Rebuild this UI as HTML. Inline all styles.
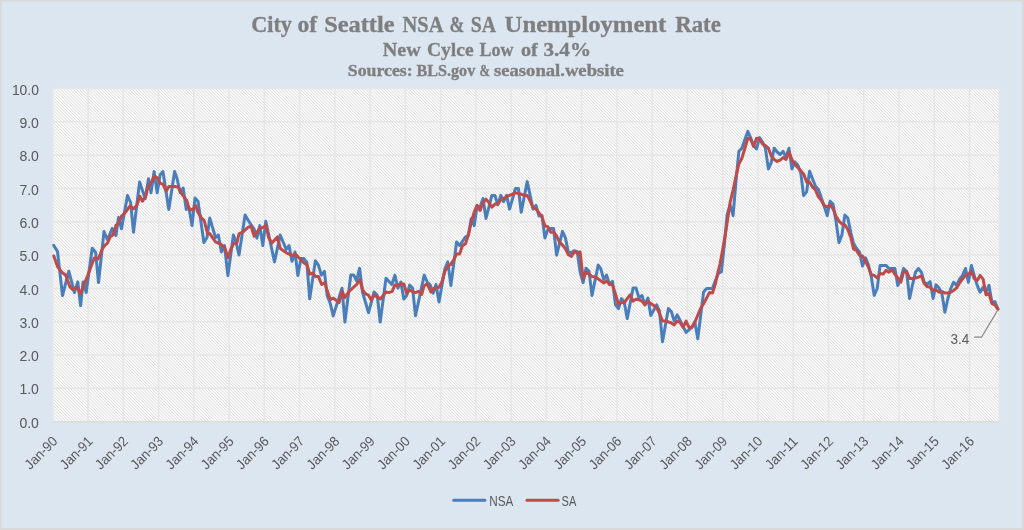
<!DOCTYPE html>
<html lang="en"><head><meta charset="utf-8"><title>City of Seattle NSA &amp; SA Unemployment Rate</title>
<style>html,body{margin:0;padding:0;background:#dce6f1;}body{width:1024px;height:530px;overflow:hidden;}svg{display:block;}.ax{font-family:"Liberation Sans",Arial,sans-serif;font-size:14px;fill:#595959;}.ti{font-family:"Liberation Serif","Times New Roman",serif;font-weight:bold;fill:#7f7f7f;stroke:#7f7f7f;stroke-width:0.35px;text-anchor:middle;}</style></head><body>
<svg width="1024" height="530" viewBox="0 0 1024 530">
<defs><pattern id="hatch" width="2.2" height="2.2" patternUnits="userSpaceOnUse" patternTransform="rotate(45)"><rect width="2.2" height="2.2" fill="#ffffff"/><rect x="0" y="0" width="2.2" height="0.95" fill="#dfdfdf"/></pattern><filter id="soft" x="-2%" y="-2%" width="104%" height="104%"><feGaussianBlur stdDeviation="0.4"/></filter><clipPath id="pc"><rect x="52.30" y="84.50" width="949.10" height="341.80"/></clipPath></defs>
<rect x="0" y="0" width="1024" height="530" fill="#d9d9d9"/>
<rect x="1.5" y="1.5" width="1020.6" height="526.5" rx="1" fill="#dce6f1"/>
<g filter="url(#soft)">
<rect x="52.30" y="88.50" width="947.10" height="333.80" fill="url(#hatch)"/>
<path d="M52.30 388.35H999.40M52.30 355.04H999.40M52.30 321.72H999.40M52.30 288.41H999.40M52.30 255.09H999.40M52.30 221.77H999.40M52.30 188.46H999.40M52.30 155.14H999.40M52.30 121.83H999.40M52.30 88.51H999.40M52.80 88.50V422.30M88.06 88.50V422.30M123.32 88.50V422.30M158.57 88.50V422.30M193.83 88.50V422.30M229.09 88.50V422.30M264.35 88.50V422.30M299.61 88.50V422.30M334.86 88.50V422.30M370.12 88.50V422.30M405.38 88.50V422.30M440.64 88.50V422.30M475.90 88.50V422.30M511.15 88.50V422.30M546.41 88.50V422.30M581.67 88.50V422.30M616.93 88.50V422.30M652.19 88.50V422.30M687.44 88.50V422.30M722.70 88.50V422.30M757.96 88.50V422.30M793.22 88.50V422.30M828.48 88.50V422.30M863.73 88.50V422.30M898.99 88.50V422.30M934.25 88.50V422.30M969.51 88.50V422.30M999.40 88.50V422.30" stroke="#e6e6e6" stroke-width="1.5" fill="none"/>
<path d="M52.30 421.85H999.40" stroke="#d6d6d6" stroke-width="1.4" fill="none"/>
<text class="ti" style="text-anchor:start" x="251.3" y="31.9" font-size="24" textLength="40.5" lengthAdjust="spacingAndGlyphs">City</text>
<text class="ti" style="text-anchor:start" x="297.6" y="31.9" font-size="24" textLength="19.6" lengthAdjust="spacingAndGlyphs">of</text>
<text class="ti" style="text-anchor:start" x="324.2" y="31.9" font-size="24" textLength="70.4" lengthAdjust="spacingAndGlyphs">Seattle</text>
<text class="ti" style="text-anchor:start" x="402.5" y="31.9" font-size="24" textLength="40.9" lengthAdjust="spacingAndGlyphs">NSA</text>
<text class="ti" style="text-anchor:start" x="449.5" y="31.9" font-size="24" textLength="14.8" lengthAdjust="spacingAndGlyphs">&amp;</text>
<text class="ti" style="text-anchor:start" x="470.7" y="31.9" font-size="24" textLength="25.4" lengthAdjust="spacingAndGlyphs">SA</text>
<text class="ti" style="text-anchor:start" x="504.6" y="31.9" font-size="24" textLength="161.7" lengthAdjust="spacingAndGlyphs">Unemployment</text>
<text class="ti" style="text-anchor:start" x="675.2" y="31.9" font-size="24" textLength="45.7" lengthAdjust="spacingAndGlyphs">Rate</text>
<text class="ti" style="text-anchor:start" x="382.8" y="55.8" font-size="19" textLength="38.0" lengthAdjust="spacingAndGlyphs">New</text>
<text class="ti" style="text-anchor:start" x="426.9" y="55.8" font-size="19" textLength="46.7" lengthAdjust="spacingAndGlyphs">Cylce</text>
<text class="ti" style="text-anchor:start" x="479.6" y="55.8" font-size="19" textLength="33.9" lengthAdjust="spacingAndGlyphs">Low</text>
<text class="ti" style="text-anchor:start" x="521.0" y="55.8" font-size="19" textLength="16.8" lengthAdjust="spacingAndGlyphs">of</text>
<text class="ti" style="text-anchor:start" x="543.5" y="55.8" font-size="19" textLength="47.5" lengthAdjust="spacingAndGlyphs">3.4%</text>
<text class="ti" style="text-anchor:start" x="347.8" y="75.5" font-size="16" textLength="64.9" lengthAdjust="spacingAndGlyphs">Sources:</text>
<text class="ti" style="text-anchor:start" x="416.6" y="75.5" font-size="16" textLength="58.6" lengthAdjust="spacingAndGlyphs">BLS.gov</text>
<text class="ti" style="text-anchor:start" x="479.5" y="75.5" font-size="16" textLength="10.5" lengthAdjust="spacingAndGlyphs">&amp;</text>
<text class="ti" style="text-anchor:start" x="494.0" y="75.5" font-size="16" textLength="129.9" lengthAdjust="spacingAndGlyphs">seasonal.website</text>
<text class="ax" x="38.9" y="427.77" text-anchor="end" textLength="19.5" lengthAdjust="spacingAndGlyphs">0.0</text>
<text class="ax" x="38.9" y="394.45" text-anchor="end" textLength="19.5" lengthAdjust="spacingAndGlyphs">1.0</text>
<text class="ax" x="38.9" y="361.14" text-anchor="end" textLength="19.5" lengthAdjust="spacingAndGlyphs">2.0</text>
<text class="ax" x="38.9" y="327.82" text-anchor="end" textLength="19.5" lengthAdjust="spacingAndGlyphs">3.0</text>
<text class="ax" x="38.9" y="294.51" text-anchor="end" textLength="19.5" lengthAdjust="spacingAndGlyphs">4.0</text>
<text class="ax" x="38.9" y="261.19" text-anchor="end" textLength="19.5" lengthAdjust="spacingAndGlyphs">5.0</text>
<text class="ax" x="38.9" y="227.87" text-anchor="end" textLength="19.5" lengthAdjust="spacingAndGlyphs">6.0</text>
<text class="ax" x="38.9" y="194.56" text-anchor="end" textLength="19.5" lengthAdjust="spacingAndGlyphs">7.0</text>
<text class="ax" x="38.9" y="161.24" text-anchor="end" textLength="19.5" lengthAdjust="spacingAndGlyphs">8.0</text>
<text class="ax" x="38.9" y="127.93" text-anchor="end" textLength="19.5" lengthAdjust="spacingAndGlyphs">9.0</text>
<text class="ax" x="38.9" y="94.61" text-anchor="end" textLength="27.0" lengthAdjust="spacingAndGlyphs">10.0</text>
<text class="ax" transform="translate(58.30 442.20) rotate(-45)" text-anchor="end" textLength="39.6" lengthAdjust="spacingAndGlyphs">Jan-90</text>
<text class="ax" transform="translate(93.56 442.20) rotate(-45)" text-anchor="end" textLength="39.6" lengthAdjust="spacingAndGlyphs">Jan-91</text>
<text class="ax" transform="translate(128.82 442.20) rotate(-45)" text-anchor="end" textLength="39.6" lengthAdjust="spacingAndGlyphs">Jan-92</text>
<text class="ax" transform="translate(164.07 442.20) rotate(-45)" text-anchor="end" textLength="39.6" lengthAdjust="spacingAndGlyphs">Jan-93</text>
<text class="ax" transform="translate(199.33 442.20) rotate(-45)" text-anchor="end" textLength="39.6" lengthAdjust="spacingAndGlyphs">Jan-94</text>
<text class="ax" transform="translate(234.59 442.20) rotate(-45)" text-anchor="end" textLength="39.6" lengthAdjust="spacingAndGlyphs">Jan-95</text>
<text class="ax" transform="translate(269.85 442.20) rotate(-45)" text-anchor="end" textLength="39.6" lengthAdjust="spacingAndGlyphs">Jan-96</text>
<text class="ax" transform="translate(305.11 442.20) rotate(-45)" text-anchor="end" textLength="39.6" lengthAdjust="spacingAndGlyphs">Jan-97</text>
<text class="ax" transform="translate(340.36 442.20) rotate(-45)" text-anchor="end" textLength="39.6" lengthAdjust="spacingAndGlyphs">Jan-98</text>
<text class="ax" transform="translate(375.62 442.20) rotate(-45)" text-anchor="end" textLength="39.6" lengthAdjust="spacingAndGlyphs">Jan-99</text>
<text class="ax" transform="translate(410.88 442.20) rotate(-45)" text-anchor="end" textLength="39.6" lengthAdjust="spacingAndGlyphs">Jan-00</text>
<text class="ax" transform="translate(446.14 442.20) rotate(-45)" text-anchor="end" textLength="39.6" lengthAdjust="spacingAndGlyphs">Jan-01</text>
<text class="ax" transform="translate(481.40 442.20) rotate(-45)" text-anchor="end" textLength="39.6" lengthAdjust="spacingAndGlyphs">Jan-02</text>
<text class="ax" transform="translate(516.65 442.20) rotate(-45)" text-anchor="end" textLength="39.6" lengthAdjust="spacingAndGlyphs">Jan-03</text>
<text class="ax" transform="translate(551.91 442.20) rotate(-45)" text-anchor="end" textLength="39.6" lengthAdjust="spacingAndGlyphs">Jan-04</text>
<text class="ax" transform="translate(587.17 442.20) rotate(-45)" text-anchor="end" textLength="39.6" lengthAdjust="spacingAndGlyphs">Jan-05</text>
<text class="ax" transform="translate(622.43 442.20) rotate(-45)" text-anchor="end" textLength="39.6" lengthAdjust="spacingAndGlyphs">Jan-06</text>
<text class="ax" transform="translate(657.69 442.20) rotate(-45)" text-anchor="end" textLength="39.6" lengthAdjust="spacingAndGlyphs">Jan-07</text>
<text class="ax" transform="translate(692.94 442.20) rotate(-45)" text-anchor="end" textLength="39.6" lengthAdjust="spacingAndGlyphs">Jan-08</text>
<text class="ax" transform="translate(728.20 442.20) rotate(-45)" text-anchor="end" textLength="39.6" lengthAdjust="spacingAndGlyphs">Jan-09</text>
<text class="ax" transform="translate(763.46 442.20) rotate(-45)" text-anchor="end" textLength="39.6" lengthAdjust="spacingAndGlyphs">Jan-10</text>
<text class="ax" transform="translate(798.72 442.20) rotate(-45)" text-anchor="end" textLength="39.6" lengthAdjust="spacingAndGlyphs">Jan-11</text>
<text class="ax" transform="translate(833.98 442.20) rotate(-45)" text-anchor="end" textLength="39.6" lengthAdjust="spacingAndGlyphs">Jan-12</text>
<text class="ax" transform="translate(869.23 442.20) rotate(-45)" text-anchor="end" textLength="39.6" lengthAdjust="spacingAndGlyphs">Jan-13</text>
<text class="ax" transform="translate(904.49 442.20) rotate(-45)" text-anchor="end" textLength="39.6" lengthAdjust="spacingAndGlyphs">Jan-14</text>
<text class="ax" transform="translate(939.75 442.20) rotate(-45)" text-anchor="end" textLength="39.6" lengthAdjust="spacingAndGlyphs">Jan-15</text>
<text class="ax" transform="translate(975.01 442.20) rotate(-45)" text-anchor="end" textLength="39.6" lengthAdjust="spacingAndGlyphs">Jan-16</text>
<path d="M53.8 245.4L57.5 251.6L62.5 295.6L68.8 271.2L74.4 292.5L77.8 281.9L80.6 305.6L83.1 281.9L86.2 292.5L92.2 248.2L95.6 252.2L98.5 282.5L104.0 231.6L107.6 240.0L112.1 228.5L116.0 235.4L118.5 217.5L121.5 228.8L127.5 195.6L130.6 202.5L133.5 232.2L139.6 181.9L145.2 198.8L148.5 178.8L151.0 192.8L154.1 171.5L157.2 192.8L160.0 175.0L162.9 171.5L168.8 209.4L174.6 171.5L177.1 178.8L180.1 192.5L183.2 188.1L186.2 209.4L189.0 208.1L192.0 225.6L195.0 198.1L198.0 201.2L203.9 242.5L207.0 237.5L209.8 218.1L215.5 237.5L218.4 235.0L221.4 251.9L224.5 245.6L227.9 275.6L233.4 235.0L236.1 242.5L239.0 255.0L245.1 215.0L248.0 220.0L254.2 229.4L256.9 238.1L259.8 225.6L262.8 245.6L265.8 221.2L274.5 261.9L280.2 235.0L286.2 249.4L289.0 245.6L292.0 261.2L295.0 251.9L297.9 275.6L300.9 258.5L303.8 258.5L306.8 262.2L309.7 298.8L315.4 260.8L318.4 265.1L321.4 275.1L324.4 271.4L327.2 295.8L330.2 303.2L333.2 315.8L342.0 288.2L344.9 322.0L350.8 275.1L353.8 275.1L356.6 280.8L359.6 268.2L362.5 292.0L368.5 312.6L374.1 292.0L377.2 295.1L380.2 322.0L386.0 278.2L391.9 284.5L394.9 275.1L397.9 288.2L400.9 282.0L403.8 298.9L406.6 295.8L409.6 285.1L412.6 288.2L415.5 315.8L424.2 275.1L427.2 282.0L430.4 285.1L433.1 293.2L436.0 284.4L439.0 301.9L444.9 268.8L447.8 261.9L450.9 285.6L456.6 241.9L459.6 245.6L465.5 236.9L468.4 235.0L471.2 218.8L474.2 225.6L477.1 206.0L480.1 207.2L483.0 198.5L486.0 218.5L491.9 195.4L494.9 195.4L497.8 204.8L500.8 195.4L503.6 201.6L506.6 195.4L509.6 209.1L515.4 188.5L518.4 188.5L521.2 212.2L527.2 181.6L533.1 209.1L536.0 205.4L539.0 216.0L541.9 215.4L544.9 237.9L547.8 229.8L550.8 228.5L553.6 228.5L556.6 255.2L559.6 243.1L562.5 231.4L565.5 238.2L568.4 252.6L571.4 252.6L574.2 250.8L577.2 251.4L580.1 272.0L583.1 282.6L586.0 268.2L589.0 271.4L592.0 295.5L598.2 265.1L600.8 268.9L603.8 279.5L606.6 275.1L609.5 284.5L612.5 281.4L615.5 304.9L618.5 308.6L621.4 298.6L624.2 301.8L627.2 318.6L633.1 288.0L636.0 288.0L639.0 298.0L642.0 295.5L644.9 304.9L647.9 298.0L650.8 315.5L656.6 304.9L659.5 311.1L662.5 341.8L668.4 308.6L671.4 311.8L674.2 321.1L677.2 314.9L680.1 320.5L686.1 332.4L689.0 329.9L691.9 326.9L694.8 321.9L697.8 338.8L703.6 291.9L706.6 288.5L709.5 288.5L712.5 288.5L715.5 280.3L718.4 273.5L721.4 271.8L724.3 245.0L727.2 214.5L730.1 205.0L733.1 215.7L736.0 181.2L738.9 151.2L741.9 148.2L744.9 139.5L747.8 131.4L750.8 138.2L753.6 145.8L756.6 148.9L759.5 137.6L762.5 142.0L765.4 148.2L768.4 168.9L771.2 162.6L774.2 148.2L777.1 152.0L780.1 154.5L783.1 151.4L786.0 157.0L789.0 148.2L791.9 168.9L794.9 162.0L797.8 165.1L800.8 173.1L803.6 195.6L806.6 191.9L809.6 171.2L812.5 178.8L815.5 186.2L818.4 189.4L821.4 198.1L824.2 206.2L827.2 215.6L830.1 201.2L833.1 204.4L836.0 221.2L839.0 242.5L841.9 235.0L844.9 215.0L847.8 218.1L850.8 232.5L853.6 243.5L856.6 248.5L859.6 252.2L862.5 266.0L865.5 257.9L868.4 264.8L871.4 277.2L874.2 295.4L877.2 288.5L880.1 265.4L883.1 265.4L886.0 265.4L889.0 268.5L891.9 268.5L894.9 268.5L897.8 285.4L900.8 278.5L903.6 268.5L906.6 271.6L909.6 298.5L912.5 284.8L915.5 272.2L918.4 268.5L921.4 272.2L924.2 282.2L927.2 284.1L930.1 281.6L933.1 298.5L936.0 284.8L939.0 287.9L941.9 293.5L944.9 312.2L947.9 298.5L950.8 288.5L953.6 282.2L956.6 285.4L959.6 279.1L962.5 275.4L965.5 268.5L968.4 282.2L971.4 265.4L974.2 275.4L977.2 285.4L980.1 292.2L983.1 287.2L986.0 292.2L989.0 285.4L991.9 302.2L994.9 301.6L997.9 309.1" stroke="#4a7ebb" stroke-width="3" fill="none" stroke-linejoin="round" stroke-linecap="round"/>
<path d="M53.8 256.0L57.5 266.6L61.9 272.2L65.6 275.0L70.0 286.9L72.5 289.4L76.9 287.5L80.6 293.8L83.8 285.0L87.5 276.2L91.2 266.0L94.4 257.9L98.1 258.8L100.4 253.8L102.5 248.5L104.8 245.4L107.5 243.2L110.2 236.6L113.1 235.0L115.9 225.4L118.8 222.9L121.5 216.0L125.0 212.9L130.0 206.0L133.5 208.8L136.9 205.2L139.8 196.2L142.5 201.2L145.6 196.2L148.1 186.9L151.2 182.5L154.4 176.2L157.5 178.1L160.0 183.1L163.1 184.4L166.2 191.2L168.8 186.5L175.0 186.5L178.0 186.9L181.8 193.8L186.8 200.6L189.2 208.8L192.4 210.0L195.5 205.6L198.0 212.5L201.1 217.5L204.2 220.6L207.4 233.1L209.9 233.8L215.5 241.9L221.1 244.4L224.9 248.1L228.0 257.8L230.5 250.0L233.6 243.8L236.8 243.1L239.0 233.8L243.0 231.9L248.6 226.9L251.1 226.2L254.2 236.2L259.9 228.1L263.0 227.5L266.1 225.6L268.6 237.5L271.8 243.1L277.4 236.9L280.5 248.8L286.8 253.1L292.4 255.6L295.5 254.0L298.6 257.5L304.0 262.9L307.0 264.8L309.8 274.1L312.9 273.2L315.4 276.4L318.5 276.4L321.6 284.5L324.8 282.6L327.2 290.8L330.4 299.5L333.5 298.2L339.1 302.6L342.2 291.4L344.8 297.6L349.1 291.4L356.6 284.5L359.8 279.5L362.5 289.5L365.4 293.9L368.5 295.1L371.2 300.1L374.1 295.1L380.4 298.9L386.0 292.0L389.1 292.6L392.2 291.4L394.8 285.1L397.9 285.8L401.0 283.9L403.8 283.9L406.6 293.2L409.8 290.1L415.4 292.6L418.5 291.4L421.6 294.5L424.1 285.8L427.2 283.9L431.0 292.0L434.0 288.2L436.0 287.9L439.0 287.2L441.9 281.9L444.9 271.2L447.8 266.2L450.9 264.4L453.6 260.0L456.6 254.0L459.6 254.0L462.5 245.6L465.5 243.8L468.4 234.8L471.2 222.2L474.2 212.2L477.1 205.4L480.1 210.4L483.0 202.9L486.0 199.1L489.0 202.9L491.9 207.2L494.9 204.1L497.8 204.1L500.8 199.8L503.6 198.5L506.6 196.6L509.6 195.4L512.5 194.1L515.4 192.9L518.4 193.5L521.2 194.1L524.2 195.4L527.2 195.4L530.1 201.0L533.1 207.9L536.0 209.1L539.0 212.9L541.9 216.6L544.9 226.0L547.8 226.6L550.8 232.2L553.6 231.9L556.6 236.2L559.5 242.2L562.0 244.5L565.5 248.9L568.4 254.8L571.4 256.4L574.2 251.4L577.2 253.2L580.1 252.0L583.1 278.9L586.0 272.0L592.0 276.4L594.9 276.8L597.9 278.6L603.8 283.0L606.6 281.1L609.5 284.2L612.5 284.9L615.5 294.2L618.5 304.2L621.4 302.4L624.2 303.0L627.2 298.6L630.1 294.9L633.1 301.1L636.0 299.2L639.0 299.9L642.0 301.1L644.9 304.9L647.9 301.1L650.8 303.6L656.6 307.4L659.5 313.6L662.5 321.1L665.5 321.1L668.4 321.8L671.4 323.0L674.2 324.9L677.2 321.1L680.1 322.4L683.1 327.4L686.1 321.1L689.0 327.4L691.9 327.5L694.8 322.5L697.8 315.0L700.8 308.1L703.6 303.8L706.6 298.1L709.5 292.5L712.5 293.1L715.4 283.8L717.8 272.8L720.0 264.0L722.8 249.0L725.6 232.8L727.5 220.2L730.1 202.5L733.1 190.0L736.0 176.2L738.9 163.9L741.9 158.2L744.9 148.2L747.8 138.2L750.8 139.5L753.6 146.4L756.6 138.2L759.5 138.9L762.5 143.9L765.4 145.5L768.4 148.2L771.2 155.8L774.2 159.5L777.1 161.4L780.1 160.1L783.1 157.6L786.0 159.5L789.0 152.0L791.9 159.5L794.9 164.5L797.8 167.6L800.8 170.8L803.6 173.9L806.6 181.9L809.6 181.9L812.5 186.9L815.5 190.0L818.0 196.2L821.4 200.6L824.2 205.6L827.2 206.9L830.1 205.0L833.1 208.8L836.0 216.2L839.0 221.2L841.9 223.8L844.9 225.0L847.8 229.4L850.8 237.5L853.6 249.1L856.6 250.4L859.6 255.4L862.5 256.0L865.5 261.0L868.4 267.2L871.4 274.8L874.2 275.4L877.2 277.9L880.1 273.5L883.1 274.1L886.0 270.4L889.0 272.2L891.9 269.8L894.9 274.1L897.8 277.9L900.8 282.2L903.6 272.2L906.6 271.6L909.6 278.5L912.5 278.5L918.4 277.2L921.4 276.0L924.2 283.5L927.2 286.6L930.1 287.2L933.1 290.4L936.0 289.8L939.0 292.2L941.9 291.6L944.9 292.9L947.9 292.9L950.8 292.2L953.6 290.4L956.6 287.9L959.6 282.9L962.5 279.1L965.5 275.4L968.4 274.1L971.4 271.6L974.2 278.5L977.2 280.4L980.1 275.4L983.1 279.1L986.0 294.8L989.0 293.5L991.9 303.5L994.9 304.8L997.9 309.1" stroke="#be4b48" stroke-width="3" fill="none" stroke-linejoin="round" stroke-linecap="round"/>
<path d="M974.2 337.2H981.5L997.5 310.5" stroke="#858585" stroke-width="1.25" fill="none"/>
<text class="ax" x="950.4" y="343.5" textLength="18.8" lengthAdjust="spacingAndGlyphs">3.4</text>
<path d="M453.7 500.3H484.9" stroke="#4a7ebb" stroke-width="3" stroke-linecap="round"/>
<text class="ax" x="489.3" y="505.8" textLength="24.1" lengthAdjust="spacingAndGlyphs">NSA</text>
<path d="M527 500.3H558.1" stroke="#be4b48" stroke-width="3" stroke-linecap="round"/>
<text class="ax" x="561.6" y="505.8" textLength="14.7" lengthAdjust="spacingAndGlyphs">SA</text>
</g>
</svg></body></html>
